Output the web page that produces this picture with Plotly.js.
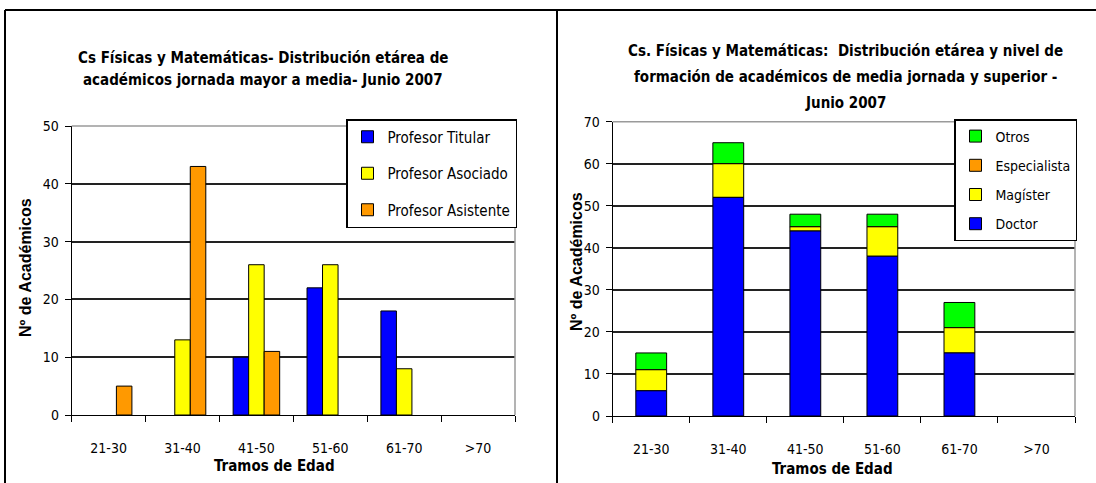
<!DOCTYPE html>
<html>
<head>
<meta charset="utf-8">
<script src="https://cdn.plot.ly/plotly-3.0.1.min.js"></script>
<style>html,body{margin:0;padding:0;background:#fff;}#chart{width:1096px;height:483px;}</style>
</head>
<body>
<div id="chart"></div>
<script>
// ---- Data ----
const categories = ['21-30', '31-40', '41-50', '51-60', '61-70', '>70'];

// Left chart: jornada mayor a media, by rank
const profTitular   = [null, null, 10, 22, 18, null];
const profAsociado  = [null, 13, 26, 26, 8, null];
const profAsistente = [5, 43, 11, null, null, null];

// Right chart: media jornada y superior, by degree (stacked)
const doctor       = [6, 52, 44, 38, 15, null];
const magister     = [5, 8, 1, 7, 6, null];
const especialista = [0, 0, 0, 0, 0, null];
const otros        = [4, 5, 3, 3, 6, null];

const leftTitle = ['Cs Físicas y Matemáticas- Distribución etárea de',
                   'académicos jornada mayor a media- Junio 2007'];
const rightTitle = ['Cs. Físicas y Matemáticas:  Distribución etárea y nivel de',
                    'formación de académicos de media jornada y superior -',
                    'Junio 2007'];
const xTitle = 'Tramos de Edad';
const yTitle = 'Nº de Académicos';

// ---- Helpers ----
const W = 1096, H = 483;
const px = x => x / W;
const py = y => (H - y) / H;
const NARROW = "'DejaVu Sans Condensed', 'Liberation Sans Narrow', Arial, sans-serif";
const ARIAL = "'Liberation Sans', Arial, sans-serif";

function addArr(a, b) { return a.map((v, i) => (v == null || b[i] == null) ? null : v + b[i]); }

const baseMag = doctor;
const baseEsp = addArr(doctor, magister);
const baseOtr = addArr(baseEsp, especialista);

const line = {color: '#000', width: 1};

const traces = [
  {type: 'bar', name: 'Profesor Titular', x: categories, y: profTitular, xaxis: 'x', yaxis: 'y',
   marker: {color: '#0000FF', line: line}, legend: 'legend', legendgroup: 'a'},
  {type: 'bar', name: 'Profesor Asociado', x: categories, y: profAsociado, xaxis: 'x', yaxis: 'y',
   marker: {color: '#FFFF00', line: line}, legend: 'legend', legendgroup: 'b'},
  {type: 'bar', name: 'Profesor Asistente', x: categories, y: profAsistente, xaxis: 'x', yaxis: 'y',
   marker: {color: '#FF9900', line: line}, legend: 'legend', legendgroup: 'c'},

  // right chart, listed top-of-legend first; stacking comes from the computed bases
  {type: 'bar', name: 'Otros', x: categories, y: otros, base: baseOtr, xaxis: 'x2', yaxis: 'y2', offsetgroup: 's', width: 0.4,
   marker: {color: '#00FF00', line: line}, legend: 'legend2', legendgroup: 'g'},
  {type: 'bar', name: 'Especialista', x: categories, y: especialista, base: baseEsp, xaxis: 'x2', yaxis: 'y2', offsetgroup: 's', width: 0.4,
   marker: {color: '#FF9900', line: line}, legend: 'legend2', legendgroup: 'f'},
  {type: 'bar', name: 'Magíster', x: categories, y: magister, base: baseMag, xaxis: 'x2', yaxis: 'y2', offsetgroup: 's', width: 0.4,
   marker: {color: '#FFFF00', line: line}, legend: 'legend2', legendgroup: 'e'},
  {type: 'bar', name: 'Doctor', x: categories, y: doctor, xaxis: 'x2', yaxis: 'y2', offsetgroup: 's', width: 0.4,
   marker: {color: '#0000FF', line: line}, legend: 'legend2', legendgroup: 'd'}
];

const tickFont = {family: NARROW, size: 14, color: '#000'};

function xAxis(domain) {
  return {domain: domain, type: 'category', range: [-0.5, 5.5], showline: true, linecolor: '#000', linewidth: 1,
          ticks: 'outside', tickson: 'boundaries', ticklen: 6, tickcolor: '#000', tickwidth: 1,
          showgrid: false, zeroline: false, tickfont: tickFont, ticklabelstandoff: 20, automargin: false, fixedrange: true};
}
function yAxis(domain, max, anchor) {
  return {domain: domain, range: [0, max], dtick: 10, showline: true, linecolor: '#000', linewidth: 1,
          ticks: 'outside', ticklen: 6, tickcolor: '#000', tickwidth: 1, showgrid: true, gridcolor: '#222', gridwidth: 2,
          zeroline: false, tickfont: tickFont, ticklabelstandoff: 3, automargin: false, fixedrange: true, anchor: anchor};
}

const L = {x0: 71.7, x1: 515, y0: 126, y1: 415};
const R = {x0: 612.7, x1: 1075, y0: 121.7, y1: 416};

const annotations = [];
leftTitle.forEach((t, i) => annotations.push({xref: 'paper', yref: 'paper', x: px(263), y: py(58 + 22 * i), xanchor: 'center', yanchor: 'middle',
  text: t, showarrow: false, font: {family: NARROW, size: 15, color: '#000', weight: 'bold'}}));
rightTitle.forEach((t, i) => annotations.push({xref: 'paper', yref: 'paper', x: px(845), y: py(51 + 26 * i), xanchor: 'center', yanchor: 'middle',
  text: t, showarrow: false, font: {family: NARROW, size: 15, color: '#000', weight: 'bold'}}));
annotations.push({xref: 'paper', yref: 'paper', x: px(274), y: py(466), xanchor: 'center', yanchor: 'middle', text: xTitle, showarrow: false,
  font: {family: NARROW, size: 15, color: '#000', weight: 'bold'}});
annotations.push({xref: 'paper', yref: 'paper', x: px(832), y: py(469), xanchor: 'center', yanchor: 'middle', text: xTitle, showarrow: false,
  font: {family: NARROW, size: 15, color: '#000', weight: 'bold'}});
annotations.push({xref: 'paper', yref: 'paper', x: px(25), y: py(268), xanchor: 'center', yanchor: 'middle', text: yTitle, textangle: -90, showarrow: false,
  font: {family: ARIAL, size: 16, color: '#000', weight: 'bold'}});
annotations.push({xref: 'paper', yref: 'paper', x: px(576), y: py(262), xanchor: 'center', yanchor: 'middle', text: yTitle, textangle: -90, showarrow: false,
  font: {family: ARIAL, size: 16, color: '#000', weight: 'bold'}});

const shapes = [
  // outer frame and divider
  {type: 'line', xref: 'paper', yref: 'paper', x0: px(5), x1: 1, y0: py(10), y1: py(10), line: {color: '#000', width: 2}},
  {type: 'line', xref: 'paper', yref: 'paper', x0: px(5), x1: px(5), y0: py(10), y1: 0, line: {color: '#000', width: 2}},
  {type: 'line', xref: 'paper', yref: 'paper', x0: px(557), x1: px(557), y0: py(10), y1: 0, line: {color: '#000', width: 2}},
  // light plot-area borders (top, right)
  {type: 'line', xref: 'paper', yref: 'paper', x0: px(L.x0), x1: px(L.x1), y0: py(L.y0), y1: py(L.y0), line: {color: '#9a9a9a', width: 1.5}},
  {type: 'line', xref: 'paper', yref: 'paper', x0: px(L.x1), x1: px(L.x1), y0: py(L.y0), y1: py(L.y1), line: {color: '#9a9a9a', width: 1.5}},
  {type: 'line', xref: 'paper', yref: 'paper', x0: px(R.x0), x1: px(R.x1), y0: py(R.y0), y1: py(R.y0), line: {color: '#9a9a9a', width: 1.5}},
  {type: 'line', xref: 'paper', yref: 'paper', x0: px(R.x1), x1: px(R.x1), y0: py(R.y0), y1: py(R.y1), line: {color: '#9a9a9a', width: 1.5}}
];

const layout = {
  width: W, height: H,
  margin: {l: 0, r: 0, t: 0, b: 0, pad: 0},
  paper_bgcolor: '#fff', plot_bgcolor: '#fff',
  barmode: 'group', bargap: 0.37, bargroupgap: 0,
  xaxis: xAxis([px(L.x0), px(L.x1)]),
  yaxis: yAxis([py(L.y1), py(L.y0)], 50, 'x'),
  xaxis2: Object.assign(xAxis([px(R.x0), px(R.x1)]), {anchor: 'y2'}),
  yaxis2: yAxis([py(R.y1), py(R.y0)], 70, 'x2'),
  showlegend: true,
  legend: {x: px(517), y: py(119), xanchor: 'right', yanchor: 'top', bgcolor: '#fff', bordercolor: '#000', borderwidth: 1.5,
           font: {family: NARROW, size: 15, color: '#000'}, traceorder: 'grouped', tracegroupgap: 14, itemwidth: 30},
  legend2: {x: px(1077), y: py(119), xanchor: 'right', yanchor: 'top', bgcolor: '#fff', bordercolor: '#000', borderwidth: 1.5,
           font: {family: NARROW, size: 14, color: '#000'}, traceorder: 'grouped', tracegroupgap: 8, itemwidth: 30},
  annotations: annotations,
  shapes: shapes,
  hovermode: false
};

Plotly.newPlot('chart', traces, layout, {displayModeBar: false, staticPlot: true});
</script>
</body>
</html>
